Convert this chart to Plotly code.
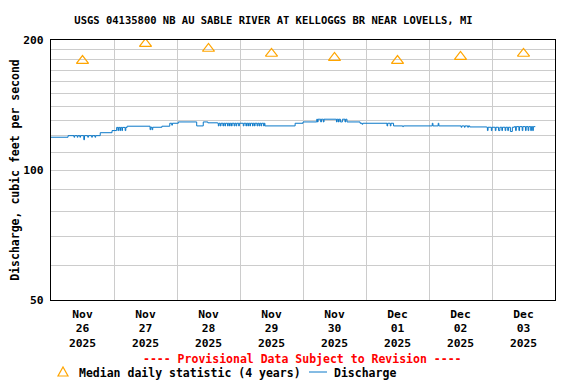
import plotly.graph_objects as go

# ---------------- data ----------------
median_dates = ["2025-11-26 12:00", "2025-11-27 12:00", "2025-11-28 12:00", "2025-11-29 12:00",
                "2025-11-30 12:00", "2025-12-01 12:00", "2025-12-02 12:00", "2025-12-03 12:00"]
median_values = [179, 196, 191, 186, 182, 179, 183, 186]

discharge_times = [
    "2025-11-26 00:00", "2025-11-26 06:30", "2025-11-26 08:45", "2025-11-26 09:00",
    "2025-11-26 10:00", "2025-11-26 10:15", "2025-11-26 11:00", "2025-11-26 11:15",
    "2025-11-26 12:30", "2025-11-26 12:45", "2025-11-26 14:00", "2025-11-26 14:15",
    "2025-11-26 15:30", "2025-11-26 15:45", "2025-11-26 16:45", "2025-11-26 17:00",
    "2025-11-26 18:45", "2025-11-26 23:15",
    "2025-11-27 01:00", "2025-11-27 01:30", "2025-11-27 01:45", "2025-11-27 02:15",
    "2025-11-27 02:30", "2025-11-27 03:00", "2025-11-27 03:15", "2025-11-27 04:15",
    "2025-11-27 04:30", "2025-11-27 05:00", "2025-11-27 13:45", "2025-11-27 14:00",
    "2025-11-27 14:30", "2025-11-27 14:45", "2025-11-27 18:15", "2025-11-27 21:15",
    "2025-11-27 22:00", "2025-11-27 22:15",
    "2025-11-28 00:30", "2025-11-28 07:30", "2025-11-28 10:00", "2025-11-28 11:45",
    "2025-11-28 15:30", "2025-11-28 15:45", "2025-11-28 16:00", "2025-11-28 16:30",
    "2025-11-28 16:45", "2025-11-28 17:30", "2025-11-28 17:45", "2025-11-28 18:15",
    "2025-11-28 18:30", "2025-11-28 19:15", "2025-11-28 19:30", "2025-11-28 20:00",
    "2025-11-28 20:15", "2025-11-28 20:45", "2025-11-28 21:00", "2025-11-28 21:45",
    "2025-11-28 22:00", "2025-11-28 22:30", "2025-11-28 22:45", "2025-11-28 23:30",
    "2025-11-28 23:45",
    "2025-11-29 01:15", "2025-11-29 01:30", "2025-11-29 02:15", "2025-11-29 02:30",
    "2025-11-29 03:00", "2025-11-29 03:15", "2025-11-29 03:45", "2025-11-29 04:00",
    "2025-11-29 04:45", "2025-11-29 05:00", "2025-11-29 05:30", "2025-11-29 05:45",
    "2025-11-29 06:30", "2025-11-29 06:45", "2025-11-29 07:15", "2025-11-29 07:30",
    "2025-11-29 08:00", "2025-11-29 08:15", "2025-11-29 09:00", "2025-11-29 09:15",
    "2025-11-29 09:30", "2025-11-29 21:00",
    "2025-11-30 00:00", "2025-11-30 05:15", "2025-11-30 05:30", "2025-11-30 05:45",
    "2025-11-30 06:45", "2025-11-30 07:00", "2025-11-30 07:45", "2025-11-30 08:00",
    "2025-11-30 12:45", "2025-11-30 13:00", "2025-11-30 13:30", "2025-11-30 13:45",
    "2025-11-30 14:15", "2025-11-30 15:00", "2025-11-30 16:00", "2025-11-30 16:15",
    "2025-11-30 16:45", "2025-11-30 21:45", "2025-11-30 22:30", "2025-11-30 22:45",
    "2025-12-01 08:00", "2025-12-01 08:15", "2025-12-01 09:15", "2025-12-01 09:30",
    "2025-12-01 10:30", "2025-12-01 14:00", "2025-12-01 14:15",
    "2025-12-02 01:15", "2025-12-02 01:30", "2025-12-02 03:30", "2025-12-02 03:45",
    "2025-12-02 12:15", "2025-12-02 12:30", "2025-12-02 13:30", "2025-12-02 13:45",
    "2025-12-02 14:45", "2025-12-02 15:00", "2025-12-02 15:30", "2025-12-02 22:00",
    "2025-12-02 22:15", "2025-12-02 22:30", "2025-12-02 23:45",
    "2025-12-03 00:00", "2025-12-03 01:15", "2025-12-03 01:30", "2025-12-03 02:30",
    "2025-12-03 03:00", "2025-12-03 03:45", "2025-12-03 04:00", "2025-12-03 05:00",
    "2025-12-03 05:15", "2025-12-03 06:00", "2025-12-03 06:15", "2025-12-03 07:00",
    "2025-12-03 07:45", "2025-12-03 08:30", "2025-12-03 09:00", "2025-12-03 09:15",
    "2025-12-03 10:15", "2025-12-03 10:30", "2025-12-03 11:30", "2025-12-03 11:45",
    "2025-12-03 12:45", "2025-12-03 13:00", "2025-12-03 13:45", "2025-12-03 14:00",
    "2025-12-03 14:45", "2025-12-03 15:00", "2025-12-03 15:30", "2025-12-03 15:45",
    "2025-12-03 16:30",
]
discharge_values = [
    119.1, 120.1, 119.1, 120.1,
    119.1, 120.1, 119.1, 120.1,
    117.5, 120.1, 119.1, 120.1,
    119.1, 120.1, 119.1, 120.1,
    122.0, 123.4,
    125.5, 123.4, 125.5, 123.4,
    125.5, 123.4, 125.5, 123.4,
    125.5, 126.3, 124.0, 125.6,
    124.0, 125.6, 126.3, 128.3,
    127.0, 128.3,
    129.2, 126.5, 129.2, 128.6,
    128.3, 126.5, 128.3, 126.5,
    128.3, 126.5, 128.3, 126.5,
    128.3, 126.5, 128.3, 126.5,
    128.3, 126.5, 128.3, 126.5,
    128.3, 126.5, 128.3, 126.5,
    128.3,
    126.5, 128.3, 126.5, 128.3,
    126.5, 128.3, 126.5, 128.3,
    126.5, 128.3, 126.5, 128.3,
    126.5, 128.3, 126.5, 128.3,
    126.5, 128.3, 126.5, 128.3,
    126.5, 128.3,
    129.2, 131.1, 129.2, 131.1,
    129.2, 131.1, 129.2, 131.1,
    129.2, 131.1, 129.2, 131.1,
    129.2, 131.1, 129.2, 131.1,
    129.2, 128.3, 127.6, 128.3,
    126.5, 128.3, 126.5, 128.3,
    126.5, 126.0, 126.5,
    128.3, 126.5, 128.3, 126.5,
    125.6, 126.5, 125.6, 126.5,
    125.6, 126.5, 125.8, 125.6,
    123.4, 125.6, 123.4,
    125.6, 123.4, 125.6, 123.4,
    125.6, 123.4, 125.6, 123.4,
    125.6, 123.4, 125.6, 122.8,
    125.6, 126.0, 123.4, 126.0,
    123.4, 126.0, 123.4, 126.0,
    123.4, 126.0, 123.4, 126.0,
    123.4, 126.0, 123.4, 126.0,
    126.0,
]

day_ticks = median_dates
day_labels = ["Nov<br>26<br>2025", "Nov<br>27<br>2025", "Nov<br>28<br>2025", "Nov<br>29<br>2025",
              "Nov<br>30<br>2025", "Dec<br>01<br>2025", "Dec<br>02<br>2025", "Dec<br>03<br>2025"]
y_major = [50, 100, 200]
y_minor = [60, 70, 80, 90, 110, 120, 130, 140, 150, 160, 170, 180, 190]

title_text = "USGS 04135800 NB AU SABLE RIVER AT KELLOGGS BR NEAR LOVELLS, MI"
y_title = "Discharge, cubic feet per second"
provisional = "---- Provisional Data Subject to Revision ----"
legend_median = "Median daily statistic (4 years)"
legend_discharge = "Discharge"

# ---------------- styling ----------------
FONT = "DejaVu Sans Mono"
ORANGE = "#FFA500"
BLUE = "#0A78C8"
GRID = "#CCCCCC"
OFF = 8                      # page body margin in the browser
W, H = 576 - OFF, 384 - OFF
# target positions (window pixels) of the plot area
PL, PR, PT, PB = 51, 555, 40, 300
L, T = PL - OFF, PT - OFF
R, B = W - (PR - OFF), H - (PB - OFF)
PW, PH = PR - PL, PB - PT


def px(x):
    return (x - PL) / PW


def py(y):
    return (PB - y) / PH


fig = go.Figure()

fig.add_trace(go.Scatter(
    x=discharge_times, y=discharge_values, mode="lines",
    line=dict(color=BLUE, width=1, shape="hv"), showlegend=False,
))
fig.add_trace(go.Scatter(
    x=median_dates, y=median_values, mode="markers",
    marker=dict(symbol="triangle-up-open", size=10.5, color=ORANGE, line=dict(width=1.2, color=ORANGE)),
    showlegend=False,
))

fig.update_layout(
    width=W, height=H,
    margin=dict(l=L, r=R, t=T, b=B, pad=0, autoexpand=False),
    paper_bgcolor="white", plot_bgcolor="white",
    font=dict(family=FONT, size=11, color="black", weight="bold"),
    showlegend=False,
    title=dict(text=title_text, x=(273.5 - OFF) / W, xref="container", xanchor="center",
               y=1 - (20 - OFF) / H, yref="container", yanchor="middle", automargin=False,
               font=dict(family=FONT, size=10.5, color="black", weight="bold")),
)

fig.update_xaxes(
    type="date", automargin=False,
    range=["2025-11-26 00:00", "2025-12-04 00:00"],
    tickmode="array", tickvals=day_ticks, ticktext=day_labels,
    ticks="", showgrid=False, ticklabelstandoff=3,
    showline=True, linecolor="black", linewidth=1.2, mirror=True,
    tickfont=dict(family=FONT, size=11.3, color="black", weight="bold"),
    minor=dict(tick0="2025-11-26", dtick=86400000, showgrid=True, gridcolor=GRID, gridwidth=1, ticks=""),
    zeroline=False,
)
fig.update_yaxes(
    type="log", automargin=True,
    range=[1.69897000433, 2.30102999566],
    tickmode="array", tickvals=y_major, ticktext=[str(v) for v in y_major],
    ticks="", showgrid=True, gridcolor=GRID, gridwidth=1,
    minor=dict(tickmode="array", tickvals=y_minor, showgrid=True, gridcolor=GRID, gridwidth=1, ticks=""),
    showline=True, linecolor="black", linewidth=1.2, mirror=True,
    ticklabelstandoff=4,
    tickfont=dict(family=FONT, size=11.3, color="black", weight="bold"),
    title=dict(text=y_title, standoff=7, font=dict(family=FONT, size=11.5, color="black", weight="bold")),
    zeroline=False,
)

# provisional note
fig.add_annotation(text=provisional, xref="paper", yref="paper", x=px(302), y=py(359),
                   xanchor="center", yanchor="middle", showarrow=False,
                   font=dict(family=FONT, size=11.5, color="#FF0000", weight="bold"))

# legend (drawn manually)
fig.add_shape(type="path", xref="paper", yref="paper",
              path=f"M {px(58)} {py(376)} L {px(68)} {py(376)} L {px(63)} {py(367)} Z",
              line=dict(color=ORANGE, width=1.2), fillcolor="rgba(0,0,0,0)")
fig.add_annotation(text=legend_median, xref="paper", yref="paper", x=px(77), y=py(373),
                   xanchor="left", yanchor="middle", showarrow=False,
                   font=dict(family=FONT, size=11.5, color="black", weight="bold"))
fig.add_shape(type="line", xref="paper", yref="paper",
              x0=px(309), x1=px(327), y0=py(372), y1=py(372), line=dict(color=BLUE, width=1))
fig.add_annotation(text=legend_discharge, xref="paper", yref="paper", x=px(332), y=py(373),
                   xanchor="left", yanchor="middle", showarrow=False,
                   font=dict(family=FONT, size=11.5, color="black", weight="bold"))

fig.write_html("out.html")
